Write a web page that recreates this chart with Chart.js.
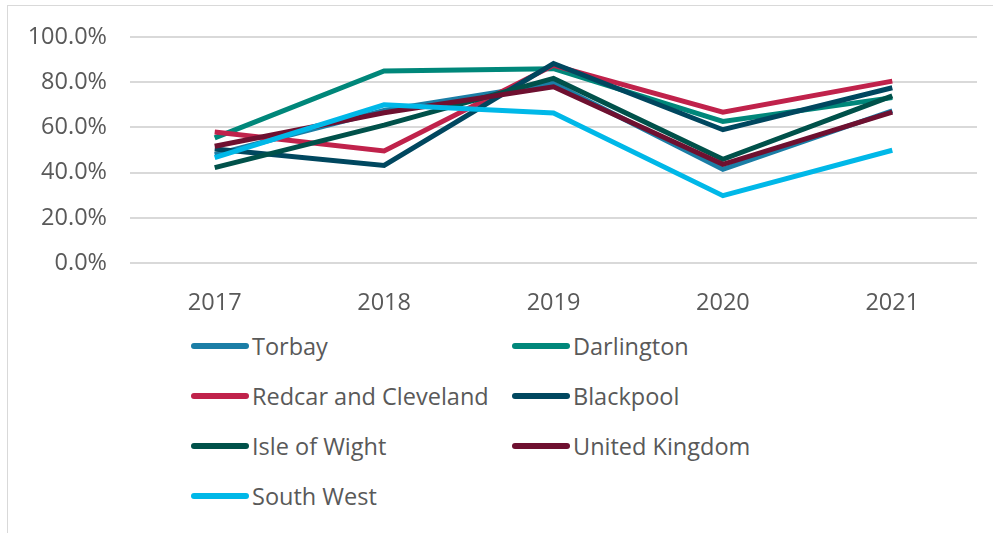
<!DOCTYPE html>
<html>
<head>
<meta charset="utf-8">
<script src="https://cdn.jsdelivr.net/npm/chart.js@4/dist/chart.umd.min.js"></script>
<style>
  body { margin: 0; background: #fff; font-family: "Open Sans", sans-serif; }
  #wrap { position: relative; width: 993px; height: 533px; overflow: hidden; }
  #frame { position: absolute; left: 7px; top: 5px; width: 1000px; height: 540px; border: 1px solid #d9d9d9; }
  #chart { position: absolute; left: 0; top: 0; }
  #legend { position: absolute; left: 191px; top: 328px; display: grid; grid-template-columns: 321px 300px; row-gap: 14px; }
  .item { display: flex; align-items: center; height: 36px; font-size: 23.5px; color: #595959; }
  .swatch { width: 58px; height: 6px; border-radius: 3px; margin-right: 3px; }
</style>
</head>
<body>
<div id="wrap">
  <div id="frame"></div>
  <canvas id="chart" width="993" height="320"></canvas>
  <div id="legend"></div>
</div>
<script>
const years = ['2017', '2018', '2019', '2020', '2021'];
const seriesNames = ['Torbay', 'Darlington', 'Redcar and Cleveland', 'Blackpool', 'Isle of Wight', 'United Kingdom', 'South West'];
const seriesColors = ['#1b7ea6', '#00877a', '#c0224b', '#00475f', '#00514a', '#6e1030', '#00b8e8'];

const torbay = [48.0, 67.5, 79.5, 41.5, 67.4];
const darlington = [55.4, 85.0, 86.0, 62.7, 73.2];
const redcar = [58.0, 49.6, 87.5, 66.8, 80.5];
const blackpool = [50.5, 43.2, 88.3, 59.0, 77.6];
const isleOfWight = [42.2, 61.0, 81.7, 45.9, 74.0];
const unitedKingdom = [51.7, 66.5, 78.0, 43.7, 66.8];
const southWest = [46.6, 70.0, 66.4, 29.8, 49.9];
const yTicks = [0, 20, 40, 60, 80, 100];

const seriesValues = [torbay, darlington, redcar, blackpool, isleOfWight, unitedKingdom, southWest];
const font = { family: '"Open Sans", sans-serif', size: 23.5 };

const datasets = seriesNames.map((name, i) => ({
    label: name,
    data: seriesValues[i],
    borderColor: seriesColors[i],
    backgroundColor: seriesColors[i],
    borderWidth: 5,
    pointRadius: 0,
    tension: 0,
    order: seriesNames.length - i
}));

const ctx = document.getElementById('chart').getContext('2d');
new Chart(ctx, {
    type: 'line',
    data: { labels: years, datasets: datasets },
    options: {
        responsive: false,
        animation: false,
        layout: { padding: { top: 35, right: 16, left: 0, bottom: 0 } },
        plugins: { legend: { display: false }, tooltip: { enabled: false } },
        scales: {
            x: {
                offset: true,
                grid: { display: false },
                border: { display: false },
                ticks: { color: '#595959', font: font, padding: 18 },
                afterFit: s => { s.height = 57; }
            },
            y: {
                min: 0,
                max: 100,
                afterBuildTicks: s => { s.ticks = yTicks.map(v => ({ value: v })); },
                grid: { color: '#d9d9d9', lineWidth: 2, drawTicks: false },
                border: { display: false },
                ticks: { color: '#595959', font: font, padding: 23, callback: v => v.toFixed(1) + '%' },
                afterFit: s => { s.width = 130; }
            }
        }
    }
});

const legend = document.getElementById('legend');
seriesNames.forEach((name, i) => {
    const item = document.createElement('div');
    item.className = 'item';
    item.innerHTML = '<span class="swatch" style="background:' + seriesColors[i] + '"></span><span>' + name + '</span>';
    legend.appendChild(item);
});
</script>
</body>
</html>
